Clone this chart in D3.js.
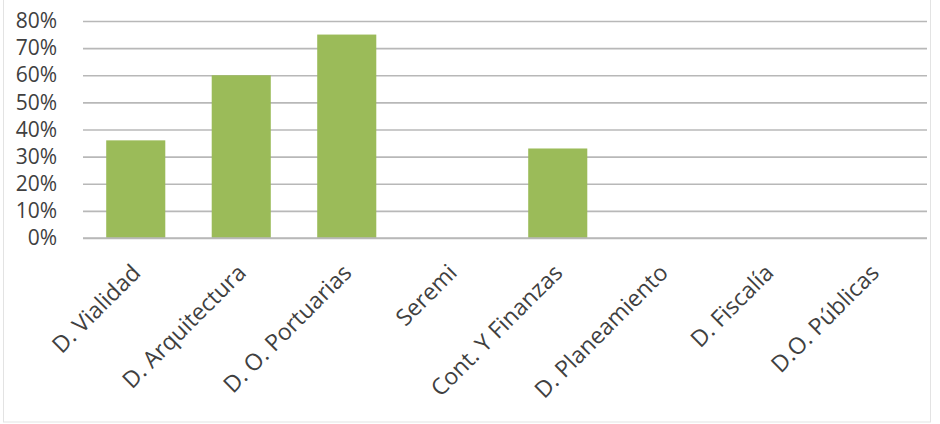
<!DOCTYPE html>
<html>
<head>
  <meta charset="utf-8">
  <script src="https://cdn.jsdelivr.net/npm/d3@7"></script>
  <style>
    body { margin: 0; background: #fff; }
    text { font-family: "Open Sans", sans-serif; fill: #404040; }
  </style>
</head>
<body>
<script>
  "use strict";

  // data
  var categories = ["D. Vialidad", "D. Arquitectura", "D. O. Portuarias", "Seremi",
                    "Cont. Y Finanzas", "D. Planeamiento", "D. Fiscalía", "D.O. Públicas"];
  var values = [0.36, 0.60, 0.75, 0, 0.33, 0, 0, 0];
  var yTicks = [0, 0.1, 0.2, 0.3, 0.4, 0.5, 0.6, 0.7, 0.8];

  var W = 940, H = 424;
  var plotL = 83, plotR = 927, plotT = 21, plotB = 238;

  var svg = d3.select("body").append("svg")
      .attr("width", W)
      .attr("height", H);

  // chart frame
  svg.append("rect")
      .attr("x", 3.5).attr("y", -2)
      .attr("width", 927).attr("height", 424)
      .attr("fill", "none")
      .attr("stroke", "#e3e3e3");

  var x = d3.scaleBand()
      .domain(categories)
      .range([plotL, plotR])
      .paddingInner(0.44)
      .paddingOuter(0.22);

  var y = d3.scaleLinear()
      .domain([0, 0.8])
      .range([plotB, plotT]);

  // gridlines + y labels
  var yAxis = svg.append("g")
      .attr("transform", "translate(" + plotL + ",0)")
      .call(d3.axisLeft(y)
        .tickValues(yTicks)
        .tickSize(-(plotR - plotL))
        .tickPadding(26)
        .tickFormat(d3.format(".0%")));
  yAxis.select(".domain").remove();
  yAxis.selectAll(".tick line")
      .attr("stroke", "#b8b8b8")
      .attr("stroke-width", 1.6);
  yAxis.selectAll(".tick text")
      .attr("font-size", 21)
      .style("fill", "#404040");

  // bars
  svg.selectAll(".bar")
      .data(values)
      .enter().append("rect")
        .attr("class", "bar")
        .attr("x", function(d, i) { return x(categories[i]); })
        .attr("width", x.bandwidth())
        .attr("y", function(d) { return y(d); })
        .attr("height", function(d) { return plotB - y(d); })
        .attr("fill", "#9bbb59");

  // baseline
  svg.append("line")
      .attr("x1", plotL).attr("x2", plotR)
      .attr("y1", plotB).attr("y2", plotB)
      .attr("stroke", "#b8b8b8")
      .attr("stroke-width", 1.6);

  // rotated category labels
  var xAxis = svg.append("g")
      .attr("transform", "translate(0," + plotB + ")")
      .call(d3.axisBottom(x).tickSize(0));
  xAxis.select(".domain").remove();
  xAxis.selectAll(".tick text")
      .attr("font-size", 23)
      .attr("text-anchor", "end")
      .attr("x", 0).attr("y", 0)
      .attr("dy", "0.75em")
      .attr("transform", "translate(-6,24) rotate(-45)")
      .style("fill", "#404040");
</script>
</body>
</html>
